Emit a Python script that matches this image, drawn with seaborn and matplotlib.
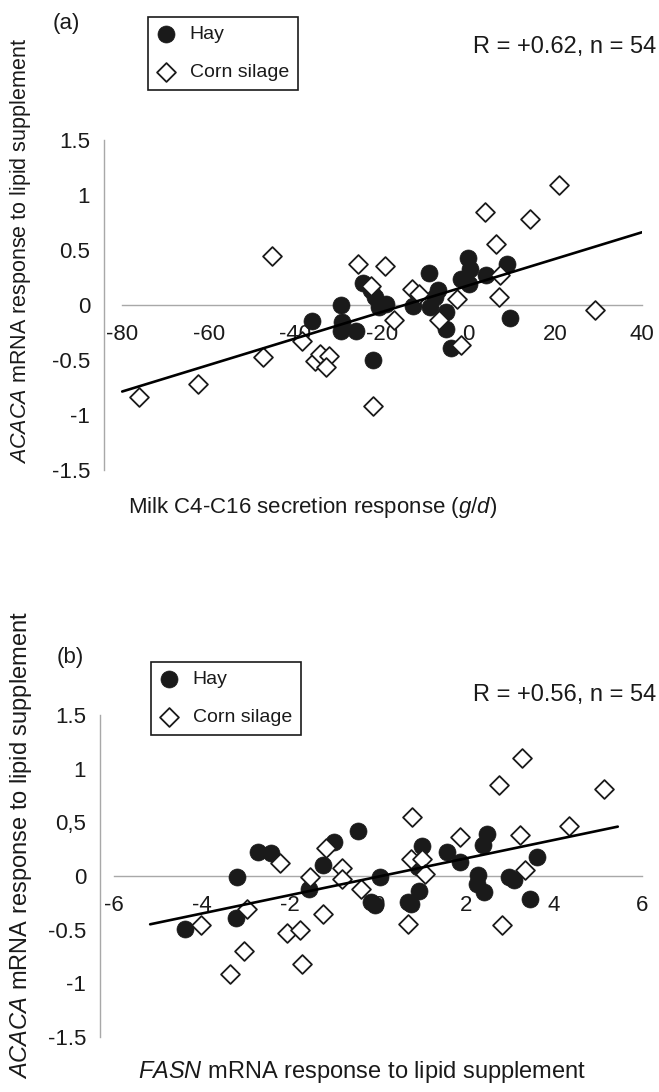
import pandas as pd
import seaborn as sns
import matplotlib.pyplot as plt

# ---- panel (a): ACACA vs milk C4-C16 secretion response ----
hay_a_x = [-36.2, -29.4, -29.2, -29.4, -26.1, -24.4, -22.1, -22.5, -21.7, -20.6, -19.0,
           -12.9, -9.2, -9.0, -7.1, -7.9, -5.2, -5.3, -4.0, -0.2, 0.2, -1.9, 0.1, 4.1, 8.9, 9.6]
hay_a_y = [-0.15, 0.00, -0.16, -0.24, -0.24, 0.20, -0.50, 0.13, 0.07, -0.02, 0.01,
           -0.01, 0.29, -0.02, 0.13, 0.07, -0.07, -0.22, -0.39, 0.43, 0.33, 0.23, 0.19, 0.27, 0.37, -0.12]
corn_a_x = [-76.1, -62.4, -47.5, -45.4, -38.6, -35.6, -34.4, -32.3, -33.0, -25.6, -22.1, -19.4, -17.2,
            -13.2, -11.5, -22.5, -6.9, -2.8, -1.7, 3.8, 6.2, 14.1, 20.9, 7.2, 7.0, 29.1]
corn_a_y = [-0.84, -0.72, -0.48, 0.44, -0.33, -0.51, -0.45, -0.47, -0.57, 0.37, -0.92, 0.35, -0.14,
            0.14, 0.10, 0.17, -0.14, 0.05, -0.37, 0.84, 0.55, 0.78, 1.09, 0.27, 0.07, -0.05]
trend_a_x = [-80, 40]
trend_a_y = [-0.79, 0.66]
xticks_a = [-80, -60, -40, -20, 0, 20, 40]
yticks_a = [-1.5, -1, -0.5, 0, 0.5, 1, 1.5]
ylabels_a = ["-1.5", "-1", "-0.5", "0", "0.5", "1", "1.5"]

# ---- panel (b): ACACA vs FASN ----
hay_b_x = [-4.39, -3.21, -3.23, -2.72, -2.44, -1.57, -1.26, -1.0, -0.45, 0.04, -0.15, -0.08,
           1.0, 0.90, 0.92, 0.67, 0.74, 1.57, 1.87, 2.47, 2.39, 2.27, 2.25, 2.40, 2.97, 3.08, 3.45, 3.62]
hay_b_y = [-0.49, -0.01, -0.39, 0.22, 0.21, -0.12, 0.10, 0.32, 0.42, -0.01, -0.24, -0.27,
           0.28, 0.08, -0.14, -0.24, -0.26, 0.22, 0.13, 0.39, 0.29, 0.01, -0.07, -0.15, -0.01, -0.04, -0.21, 0.18]
corn_b_x = [-4.03, -2.98, -3.04, -3.36, -2.23, -2.06, -1.77, -1.72, -1.55, -1.26, -1.19, -0.83, -0.83,
            -0.39, 0.78, 0.74, 1.0, 1.06, 0.69, 1.86, 2.74, 3.27, 3.22, 3.35, 2.81, 4.33, 5.14]
corn_b_y = [-0.46, -0.31, -0.70, -0.91, 0.12, -0.53, -0.50, -0.82, -0.01, -0.35, 0.26, 0.07, -0.03,
            -0.12, 0.55, 0.16, 0.16, 0.02, -0.45, 0.36, 0.85, 1.10, 0.38, 0.06, -0.46, 0.47, 0.81]
trend_b_x = [-5.18, 5.45]
trend_b_y = [-0.45, 0.46]
xticks_b = [-6, -4, -2, 0, 2, 4, 6]
yticks_b = [-1.5, -1, -0.5, 0, 0.5, 1, 1.5]
ylabels_b = ["-1.5", "-1", "-0.5", "0", "0,5", "1", "1.5"]

sns.set_theme(style="white")
plt.rcParams['font.family'] = ['Liberation Sans', 'DejaVu Sans']
plt.rcParams['mathtext.fontset'] = 'custom'
plt.rcParams['mathtext.rm'] = 'Liberation Sans'
plt.rcParams['mathtext.it'] = 'Liberation Sans:italic'

INK = '#1a1a1a'
AXIS = '#a8a8a8'
W, H = 659, 1092
fig = plt.figure(figsize=(W / 100, H / 100), dpi=100)


def px_box(left, top, right, bottom):
    return [left / W, 1 - bottom / H, (right - left) / W, (bottom - top) / H]


def draw_panel(ax, hx, hy, cx, cy, tx, ty, xlim, xticks, yticks, ylabels):
    hay = pd.DataFrame({"x": hx, "y": hy})
    corn = pd.DataFrame({"x": cx, "y": cy})
    sns.scatterplot(data=hay, x="x", y="y", ax=ax, marker="o", s=150, color=INK,
                    edgecolor=INK, linewidth=0.5, label="Hay", zorder=3)
    sns.scatterplot(data=corn, x="x", y="y", ax=ax, marker="D", s=92, color="white",
                    edgecolor=INK, linewidth=1.3, label="Corn silage", zorder=4)
    sns.lineplot(x=tx, y=ty, ax=ax, color="black", linewidth=1.9, zorder=5)

    ax.set_xlim(*xlim)
    ax.set_ylim(-1.5, 1.5)
    ax.set_xticks(xticks)
    ax.set_xticklabels([str(t) for t in xticks])
    ax.set_yticks(yticks)
    ax.set_yticklabels(ylabels)
    ax.set_xlabel("")
    ax.set_ylabel("")

    ax.spines['top'].set_visible(False)
    ax.spines['right'].set_visible(False)
    ax.spines['bottom'].set_position(('data', 0))
    ax.spines['bottom'].set_bounds(xticks[0], xticks[-1])
    for side in ('left', 'bottom'):
        ax.spines[side].set_color(AXIS)
        ax.spines[side].set_linewidth(1.0)
    ax.tick_params(axis='both', colors=AXIS, labelcolor=INK, labelsize=16,
                   direction='out', length=3, width=1)
    ax.tick_params(axis='x', pad=11)
    ax.tick_params(axis='y', pad=7)
    ax.patch.set_alpha(0)

    handles, labels = ax.get_legend_handles_labels()
    ax.get_legend().remove()
    return handles, labels


# panel (a)
ax_a = fig.add_axes(px_box(104, 140, 642, 469.5))
h, l = draw_panel(ax_a, hay_a_x, hay_a_y, corn_a_x, corn_a_y, trend_a_x, trend_a_y,
                  (-84.2, 40), xticks_a, yticks_a, ylabels_a)
leg = ax_a.legend(h, l, loc='upper left', bbox_to_anchor=(138 / W, 1 - 7 / H),
                  bbox_transform=fig.transFigure, frameon=True, fancybox=False,
                  edgecolor=INK, framealpha=1, fontsize=14, labelspacing=1.05,
                  handletextpad=0.7, borderpad=0.45, handlelength=1.0)
leg.get_frame().set_linewidth(1.2)
for t in leg.get_texts():
    t.set_color(INK)

fig.text(66 / W, 1 - 23 / H, "(a)", fontsize=16, color=INK, ha='center', va='center')
fig.text(656 / W, 1 - 47 / H, "R = +0.62, n = 54", fontsize=17, color=INK, ha='right', va='center')
fig.text(128 / W, 1 - 507 / H, r"Milk C4-C16 secretion response $\it{(g/d)}$",
         fontsize=16, color=INK, ha='left', va='center')
fig.text(21 / W, 1 - 251 / H, r"$\it{ACACA}$ mRNA response to lipid supplement",
         fontsize=15.5, color=INK, ha='center', va='center', rotation=90)

# panel (b)
ax_b = fig.add_axes(px_box(100, 715, 642, 1037))
h, l = draw_panel(ax_b, hay_b_x, hay_b_y, corn_b_x, corn_b_y, trend_b_x, trend_b_y,
                  (-6.32, 6), xticks_b, yticks_b, ylabels_b)
leg = ax_b.legend(h, l, loc='upper left', bbox_to_anchor=(141 / W, 1 - 652 / H),
                  bbox_transform=fig.transFigure, frameon=True, fancybox=False,
                  edgecolor=INK, framealpha=1, fontsize=14, labelspacing=1.05,
                  handletextpad=0.7, borderpad=0.45, handlelength=1.0)
leg.get_frame().set_linewidth(1.2)
for t in leg.get_texts():
    t.set_color(INK)

fig.text(70 / W, 1 - 658 / H, "(b)", fontsize=16, color=INK, ha='center', va='center')
fig.text(656 / W, 1 - 695 / H, "R = +0.56, n = 54", fontsize=17, color=INK, ha='right', va='center')
fig.text(362 / W, 1 - 1072 / H, r"$\it{FASN}$ mRNA response to lipid supplement",
         fontsize=17, color=INK, ha='center', va='center')
fig.text(21 / W, 1 - 845 / H, r"$\it{ACACA}$ mRNA response to lipid supplement",
         fontsize=17, color=INK, ha='center', va='center', rotation=90)

fig.savefig("out.png", dpi=100)
